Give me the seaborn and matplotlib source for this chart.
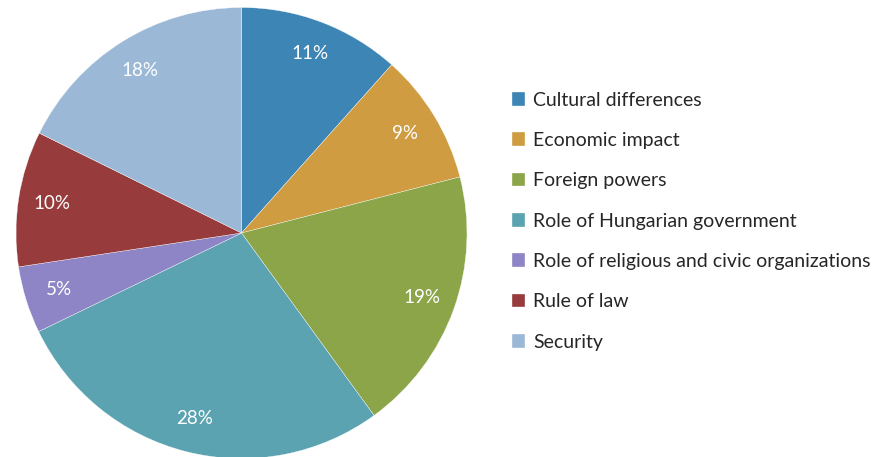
#!/usr/bin/env python

import numpy as np
import matplotlib.pyplot as plt
import seaborn as sns

sns.set_theme(style="white")
plt.rcParams['font.family'] = ['Lato', 'DejaVu Sans']

## Data
categories = ["Cultural differences", "Economic impact", "Foreign powers",
              "Role of Hungarian government", "Role of religious and civic organizations",
              "Rule of law", "Security"]
shares = [11.6, 9.4, 19.0, 27.8, 4.8, 9.7, 17.7]
pct_labels = ["11%", "9%", "19%", "28%", "5%", "10%", "18%"]
colors = sns.color_palette(["#3D85B5", "#CF9C41", "#8BA548", "#5BA3B0",
                            "#8D85C5", "#973B3C", "#9BB9D7"])

fig = plt.figure(figsize=(8.81, 4.57), dpi=100)
ax = fig.add_axes([16 / 881, -1.5 / 457, 451 / 881, 451 / 457])

## Pie
wedges, texts = ax.pie(shares, colors=colors, startangle=90, counterclock=False,
                       radius=1, wedgeprops=dict(edgecolor='white', linewidth=0.25))
ax.set_xlim(-1, 1)
ax.set_ylim(-1, 1)
ax.set_aspect('equal')
ax.axis('off')

## Percent labels
for w, lab in zip(wedges, pct_labels):
    mid = np.deg2rad((w.theta1 + w.theta2) / 2)
    ax.text(0.85 * np.cos(mid), 0.85 * np.sin(mid), lab, ha='center', va='center',
            color='white', fontsize=13.5)

## Legend
fig.legend(wedges, categories, loc='upper left', bbox_to_anchor=(504 / 881, 1 - 84 / 457),
           frameon=False, fontsize=14, handlelength=0.7, handleheight=0.7,
           handletextpad=0.4, labelspacing=1.2, borderaxespad=0)

## Save it
fig.savefig('out.png', dpi=100)
